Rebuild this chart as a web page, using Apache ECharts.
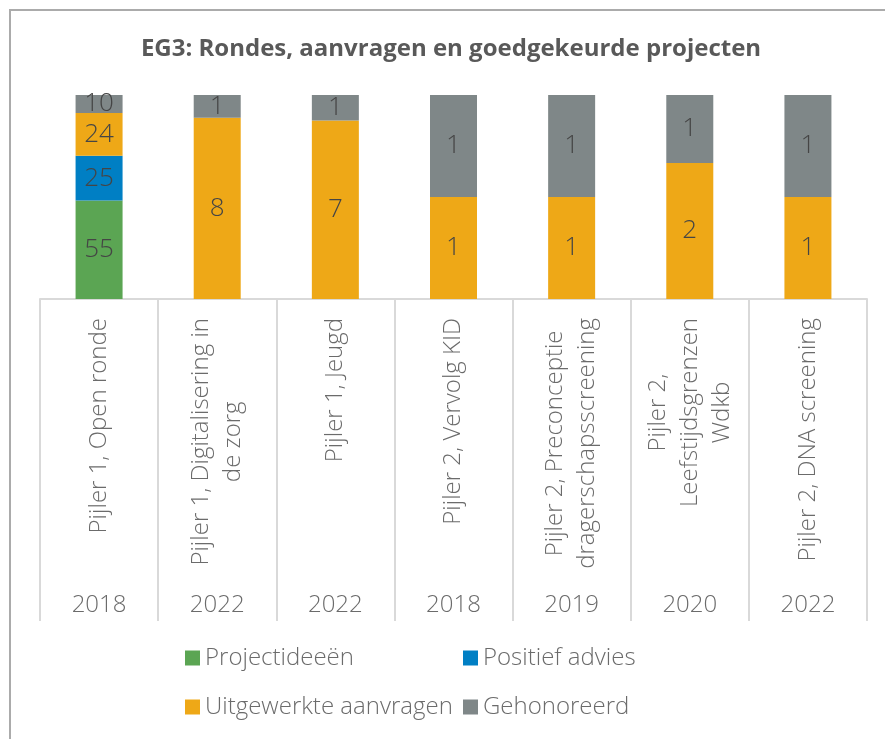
<!DOCTYPE html>
<html>
<head>
<meta charset="utf-8">
<script src="https://cdn.jsdelivr.net/npm/echarts@6/dist/echarts.min.js"></script>
<style>
html, body { margin: 0; padding: 0; background: #fff; }
#chart { width: 885px; height: 739px; }
</style>
</head>
<body>
<div id="chart"></div>
<script>
// rondes (categorieën) en jaren
var rondes = [
    'Pijler 1, Open ronde',
    'Pijler 1, Digitalisering in\nde zorg',
    'Pijler 1, Jeugd',
    'Pijler 2, Vervolg KID',
    'Pijler 2, Preconceptie\ndragerschapsscreening',
    'Pijler 2,\nLeefstijdsgrenzen\nWdkb',
    'Pijler 2, DNA screening'
];
var jaren = ['2018', '2022', '2022', '2018', '2019', '2020', '2022'];

// aantallen per reeks
var projectideeen = [55, null, null, null, null, null, null];
var positiefAdvies = [25, null, null, null, null, null, null];
var uitgewerkt = [24, 8, 7, 1, 1, 2, 1];
var gehonoreerd = [10, 1, 1, 1, 1, 1, 1];

var fontFam = '"Open Sans", "Noto Sans", sans-serif';

// totaal per ronde, voor de 100% stapeling
var totalen = rondes.map(function(r, i) {
    return [projectideeen, positiefAdvies, uitgewerkt, gehonoreerd].reduce(function(s, arr) {
        return s + (arr[i] || 0);
    }, 0);
});

function aandeel(arr) {
    return arr.map(function(v, i) {
        if (v == null) return '-';
        return { value: v / totalen[i], raw: v };
    });
}

function reeks(naam, arr, kleur) {
    return {
        name: naam,
        type: 'bar',
        stack: 'totaal',
        barWidth: 47,
        data: aandeel(arr),
        itemStyle: { color: kleur },
        label: {
            show: true,
            position: 'inside',
            color: '#454545',
            fontSize: 26,
            fontWeight: 300,
            fontFamily: fontFam,
            formatter: function(p) { return p.data.raw; }
        }
    };
}

var myChart = echarts.init(document.getElementById('chart'));

var legendText = { color: '#6b6b6b', fontSize: 24, fontWeight: 300, fontFamily: fontFam };

var option = {
    animation: false,
    title: {
        text: 'EG3: Rondes, aanvragen en goedgekeurde projecten',
        left: 446,
        textAlign: 'center',
        top: 32,
        textStyle: {
            color: '#595959',
            fontSize: 24,
            fontWeight: 'bold',
            fontFamily: fontFam
        }
    },
    graphic: [{
        type: 'rect',
        shape: { x: 10, y: 10, width: 900, height: 800 },
        style: { fill: 'none', stroke: '#ababab', lineWidth: 2 },
        silent: true
    }],
    legend: [{
        data: ['Projectideeën', 'Uitgewerkte aanvragen'],
        orient: 'vertical',
        left: 180,
        top: 641,
        itemGap: 25,
        itemWidth: 15,
        itemHeight: 15,
        icon: 'rect',
        textStyle: legendText
    }, {
        data: ['Positief advies', 'Gehonoreerd'],
        orient: 'vertical',
        left: 458,
        top: 641,
        itemGap: 25,
        itemWidth: 15,
        itemHeight: 15,
        icon: 'rect',
        textStyle: legendText
    }],
    grid: {
        left: 40,
        right: 18,
        top: 95,
        bottom: 440
    },
    xAxis: [{
        type: 'category',
        data: rondes,
        axisLine: { lineStyle: { color: '#d9d9d9', width: 2 } },
        axisTick: { show: true, length: 322, lineStyle: { color: '#d9d9d9', width: 2 } },
        axisLabel: {
            interval: 0,
            rotate: 90,
            margin: 19,
            formatter: function(v) {
                return v.split('\n').map(function(l) { return '{c|' + l + '}'; }).join('\n');
            },
            rich: {
                c: {
                    align: 'center',
                    color: '#6b6b6b',
                    fontSize: 24,
                    lineHeight: 32,
                    fontWeight: 300,
                    fontFamily: fontFam
                }
            }
        }
    }, {
        type: 'category',
        data: jaren,
        position: 'bottom',
        offset: 306,
        axisLine: { show: false },
        axisTick: { show: false },
        axisLabel: {
            interval: 0,
            margin: 0,
            verticalAlign: 'middle',
            color: '#6b6b6b',
            fontSize: 24,
            fontWeight: 300,
            fontFamily: fontFam
        }
    }],
    yAxis: {
        type: 'value',
        min: 0,
        max: 1,
        show: false
    },
    series: [
        reeks('Projectideeën', projectideeen, '#5ba553'),
        reeks('Positief advies', positiefAdvies, '#007fc4'),
        reeks('Uitgewerkte aanvragen', uitgewerkt, '#eea817'),
        reeks('Gehonoreerd', gehonoreerd, '#7f8788')
    ]
};

myChart.setOption(option);
</script>
</body>
</html>
